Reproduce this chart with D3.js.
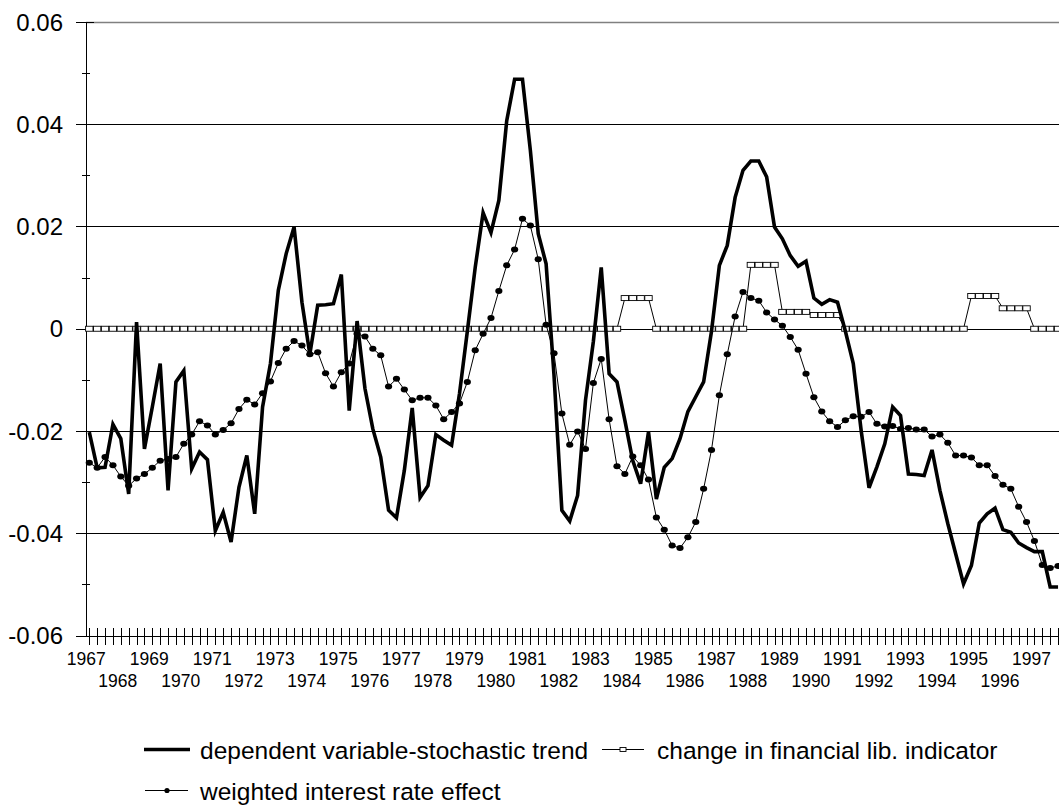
<!DOCTYPE html>
<html>
<head>
<meta charset="utf-8">
<script src="https://cdn.jsdelivr.net/npm/d3@7"></script>
<style>
  html, body { margin: 0; padding: 0; background: #fff; }
  svg { display: block; font-family: Arial, "Liberation Sans", sans-serif; }
</style>
</head>
<body>
<div id="chart"></div>
<script>
// categories: one entry per year, four quarters each
var years = [1967, 1968, 1969, 1970, 1971, 1972, 1973, 1974, 1975, 1976,
	1977, 1978, 1979, 1980, 1981, 1982, 1983, 1984, 1985, 1986,
	1987, 1988, 1989, 1990, 1991, 1992, 1993, 1994, 1995, 1996, 1997];

// dependent variable-stochastic trend (quarterly)
var trend = [
	-0.0202, -0.0272, -0.0271, -0.0187,
	-0.0215, -0.0323, 0.0013, -0.0235,
	-0.0153, -0.0068, -0.0316, -0.0104,
	-0.0082, -0.0274, -0.0241, -0.0256,
	-0.0395, -0.0359, -0.0417, -0.0310,
	-0.0248, -0.0362, -0.0153, -0.0068,
	0.0075, 0.0147, 0.0199, 0.0052,
	-0.0050, 0.0046, 0.0047, 0.0049,
	0.0106, -0.0160, 0.0015, -0.0117,
	-0.0196, -0.0251, -0.0355, -0.0370,
	-0.0277, -0.0155, -0.0330, -0.0307,
	-0.0207, -0.0218, -0.0228, -0.0127,
	-0.0005, 0.0120, 0.0227, 0.0188,
	0.0251, 0.0407, 0.0488, 0.0488,
	0.0349, 0.0186, 0.0127, -0.0090,
	-0.0355, -0.0376, -0.0326, -0.0140,
	-0.0025, 0.0120, -0.0088, -0.0104,
	-0.0179, -0.0258, -0.0303, -0.0202,
	-0.0333, -0.0271, -0.0254, -0.0215,
	-0.0162, -0.0133, -0.0104, -0.0005,
	0.0124, 0.0163, 0.0257, 0.0310,
	0.0328, 0.0328, 0.0297, 0.0199,
	0.0176, 0.0143, 0.0122, 0.0132,
	0.0060, 0.0048, 0.0057, 0.0052,
	-0.0005, -0.0068, -0.0199, -0.0311,
	-0.0270, -0.0225, -0.0153, -0.0170,
	-0.0284, -0.0285, -0.0287, -0.0237,
	-0.0316, -0.0381, -0.0440, -0.0499,
	-0.0463, -0.0380, -0.0362, -0.0351,
	-0.0393, -0.0398, -0.0419, -0.0428,
	-0.0436, -0.0436, -0.0505, -0.0505
];

// change in financial lib. indicator
var finLib = [
	0, 0, 0, 0,  0, 0, 0, 0,  0, 0, 0, 0,  0, 0, 0, 0,
	0, 0, 0, 0,  0, 0, 0, 0,  0, 0, 0, 0,  0, 0, 0, 0,
	0, 0, 0, 0,  0, 0, 0, 0,  0, 0, 0, 0,  0, 0, 0, 0,
	0, 0, 0, 0,  0, 0, 0, 0,  0, 0, 0, 0,  0, 0, 0, 0,
	0, 0, 0, 0,
	0.0060, 0.0060, 0.0060, 0.0060,
	0, 0, 0, 0,  0, 0, 0, 0,  0, 0, 0, 0,
	0.0125, 0.0125, 0.0125, 0.0125,
	0.0033, 0.0033, 0.0033, 0.0033,
	0.0027, 0.0027, 0.0027, 0.0027,
	0, 0, 0, 0,  0, 0, 0, 0,  0, 0, 0, 0,  0, 0, 0, 0,
	0.0064, 0.0064, 0.0064, 0.0064,
	0.0040, 0.0040, 0.0040, 0.0040,
	0, 0, 0, 0
];

// weighted interest rate effect
var interest = [
	-0.0262, -0.0272, -0.0251, -0.0267,
	-0.0289, -0.0307, -0.0293, -0.0284,
	-0.0272, -0.0258, -0.0255, -0.0251,
	-0.0225, -0.0207, -0.0181, -0.0189,
	-0.0207, -0.0198, -0.0185, -0.0157,
	-0.0139, -0.0148, -0.0126, -0.0103,
	-0.0067, -0.0039, -0.0024, -0.0033,
	-0.0050, -0.0046, -0.0087, -0.0113,
	-0.0085, -0.0068, -0.0010, -0.0015,
	-0.0039, -0.0052, -0.0113, -0.0098,
	-0.0119, -0.0140, -0.0135, -0.0135,
	-0.0150, -0.0177, -0.0163, -0.0146,
	-0.0104, -0.0042, -0.0010, 0.0021,
	0.0074, 0.0124, 0.0155, 0.0215,
	0.0202, 0.0136, 0.0008, -0.0048,
	-0.0166, -0.0227, -0.0201, -0.0235,
	-0.0106, -0.0059, -0.0177, -0.0269,
	-0.0284, -0.0250, -0.0267, -0.0295,
	-0.0369, -0.0393, -0.0424, -0.0429,
	-0.0408, -0.0378, -0.0313, -0.0237,
	-0.0130, -0.0050, 0.0024, 0.0072,
	0.0060, 0.0055, 0.0032, 0.0018,
	0.0006, -0.0016, -0.0041, -0.0088,
	-0.0134, -0.0162, -0.0181, -0.0192,
	-0.0179, -0.0171, -0.0172, -0.0163,
	-0.0186, -0.0191, -0.0190, -0.0196,
	-0.0194, -0.0197, -0.0197, -0.0211,
	-0.0207, -0.0223, -0.0248, -0.0248,
	-0.0252, -0.0267, -0.0267, -0.0288,
	-0.0305, -0.0313, -0.0348, -0.0378,
	-0.0415, -0.0462, -0.0468, -0.0464
];

var yMajor = [-0.06, -0.04, -0.02, 0, 0.02, 0.04, 0.06];
var yMinor = [-0.05, -0.03, -0.01, 0.01, 0.03, 0.05];
var yLabels = ['-0.06', '-0.04', '-0.02', '0', '0.02', '0.04', '0.06'];

var legendNames = ['dependent variable-stochastic trend',
	'change in financial lib. indicator',
	'weighted interest rate effect'];

(function() {

var W = 1059, H = 806;
var left = 86, top = 22, bottom = 635.5, right = 1059;

var quarters = [];
years.forEach(function(yr) {
	for(var q = 1; q <= 4; q++) quarters.push(yr + 'Q' + q);
});

var x = d3.scalePoint()
	.domain(quarters)
	.range([89.3, 89.3 + 7.876 * (quarters.length - 1)]);
var y = d3.scaleLinear()
	.domain([-0.06, 0.06])
	.range([bottom, top]);

var svg = d3.select('#chart').append('svg')
	.attr('width', W)
	.attr('height', H);
svg.append('rect').attr('width', W).attr('height', H).attr('fill', '#fff');

var crisp = function(v) { return Math.round(v) + 0.5; };

// gridlines
var grid = svg.append('g').attr('class', 'grid');
grid.selectAll('line')
	.data(yMajor.filter(function(d) { return d > -0.06; }))
	.enter().append('line')
	.attr('x1', left).attr('x2', right)
	.attr('y1', function(d) { return crisp(y(d)); })
	.attr('y2', function(d) { return crisp(y(d)); })
	.attr('stroke', function(d) { return d === 0.06 ? '#808080' : '#000'; })
	.attr('stroke-width', function(d) { return d === 0.06 ? 1.5 : 1; });

// y axis
var axis = svg.append('g').attr('class', 'axis').attr('stroke', '#000');
axis.append('line')
	.attr('x1', crisp(left)).attr('x2', crisp(left))
	.attr('y1', top).attr('y2', crisp(bottom));
axis.selectAll('line.major')
	.data(yMajor).enter().append('line')
	.attr('class', 'major')
	.attr('x1', left - 10).attr('x2', left + 8)
	.attr('y1', function(d) { return crisp(y(d)); })
	.attr('y2', function(d) { return crisp(y(d)); });
axis.selectAll('line.minor')
	.data(yMinor).enter().append('line')
	.attr('class', 'minor')
	.attr('x1', left - 4).attr('x2', left + 4)
	.attr('y1', function(d) { return crisp(y(d)); })
	.attr('y2', function(d) { return crisp(y(d)); });
svg.append('g').selectAll('text')
	.data(yMajor).enter().append('text')
	.attr('x', 63)
	.attr('y', function(d) { return y(d) + 8.5; })
	.attr('text-anchor', 'end')
	.attr('font-size', 24)
	.attr('fill', '#000')
	.text(function(d, i) { return yLabels[i]; });

// x axis
axis.append('line')
	.attr('x1', left - 10).attr('x2', right)
	.attr('y1', crisp(bottom)).attr('y2', crisp(bottom));
axis.selectAll('line.xtick')
	.data(quarters).enter().append('line')
	.attr('class', 'xtick')
	.attr('x1', function(d) { return crisp(x(d)); })
	.attr('x2', function(d) { return crisp(x(d)); })
	.attr('y1', 628).attr('y2', 645);
svg.append('g').selectAll('text')
	.data(years).enter().append('text')
	.attr('x', function(d) { return x(d + 'Q1') - 3; })
	.attr('y', function(d, i) { return i % 2 ? 687 : 665; })
	.attr('text-anchor', 'middle')
	.attr('font-size', 17.5)
	.attr('fill', '#000')
	.text(function(d) { return d; });

// series
var line = function(vals) {
	return d3.line()
		.x(function(d, i) { return x(quarters[i]); })
		.y(function(d) { return y(d); })(vals);
};

var plot = svg.append('g').attr('class', 'plot');

plot.append('path')
	.attr('d', line(finLib))
	.attr('fill', 'none').attr('stroke', '#000').attr('stroke-width', 1);
plot.append('g').selectAll('rect')
	.data(finLib).enter().append('rect')
	.attr('x', function(d, i) { return x(quarters[i]) - 3.7; })
	.attr('y', function(d) { return y(d) - 2.5; })
	.attr('width', 7.4).attr('height', 5)
	.attr('fill', '#fff').attr('stroke', '#000').attr('stroke-width', 0.9);

plot.append('path')
	.attr('d', line(trend))
	.attr('fill', 'none').attr('stroke', '#000')
	.attr('stroke-width', 3.6).attr('stroke-linejoin', 'miter');

plot.append('path')
	.attr('d', line(interest))
	.attr('fill', 'none').attr('stroke', '#000').attr('stroke-width', 1);
plot.append('g').selectAll('ellipse')
	.data(interest).enter().append('ellipse')
	.attr('cx', function(d, i) { return x(quarters[i]); })
	.attr('cy', function(d) { return y(d); })
	.attr('rx', 3.6).attr('ry', 3)
	.attr('fill', '#000');

// legend
var legend = svg.append('g').attr('class', 'legend').attr('font-size', 24.5);
var row1 = 749.5, row2 = 790.5;

legend.append('line')
	.attr('x1', 144).attr('x2', 190).attr('y1', row1).attr('y2', row1)
	.attr('stroke', '#000').attr('stroke-width', 3.6);
legend.append('text').attr('x', 200).attr('y', row1 + 9)
	.text(legendNames[0]);

legend.append('line')
	.attr('x1', 602).attr('x2', 644).attr('y1', row1).attr('y2', row1)
	.attr('stroke', '#000').attr('stroke-width', 1);
legend.append('rect')
	.attr('x', 620).attr('y', row1 - 2).attr('width', 6).attr('height', 4)
	.attr('fill', '#fff').attr('stroke', '#000').attr('stroke-width', 0.9);
legend.append('text').attr('x', 657).attr('y', row1 + 9)
	.text(legendNames[1]);

legend.append('line')
	.attr('x1', 145).attr('x2', 188).attr('y1', row2).attr('y2', row2)
	.attr('stroke', '#000').attr('stroke-width', 1);
legend.append('circle')
	.attr('cx', 167).attr('cy', row2).attr('r', 2.6).attr('fill', '#000');
legend.append('text').attr('x', 200).attr('y', row2 + 9)
	.text(legendNames[2]);

})();
</script>
</body>
</html>
